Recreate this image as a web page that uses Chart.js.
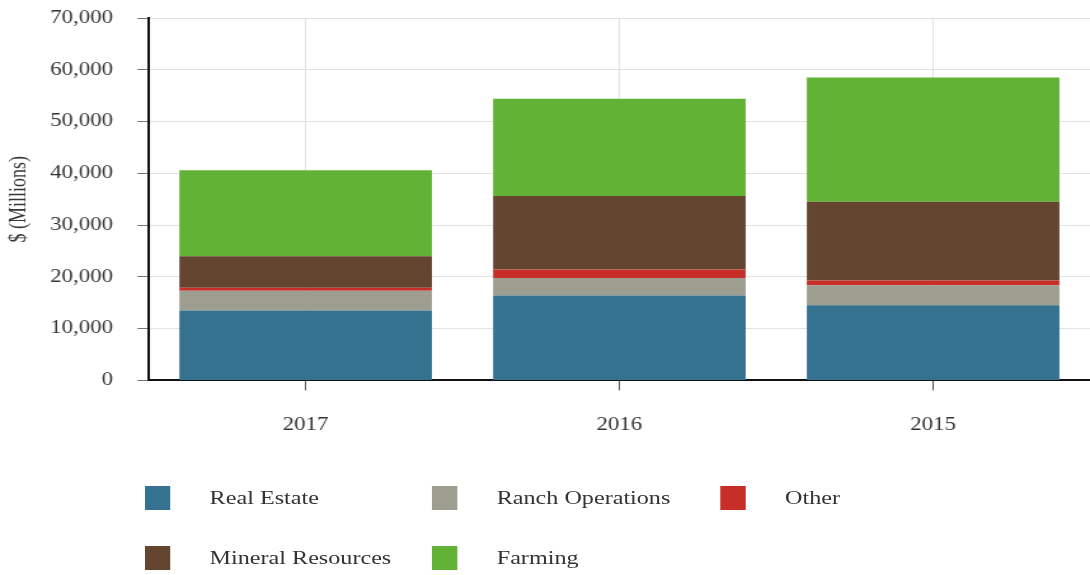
<!DOCTYPE html>
<html>
<head>
<meta charset="utf-8">
<script src="https://cdn.jsdelivr.net/npm/chart.js@4.4.0/dist/chart.umd.min.js"></script>
<style>
    html, body { margin: 0; padding: 0; background: #fff; overflow: hidden; }
    /* the reference is stretched sideways, so draw narrow and scale up */
    #wrap { position: relative; width: 858px; height: 575px; transform: scaleX(1.2704); transform-origin: 0 0; }
    #chart { position: absolute; left: 0; top: 0; }
    .legend-item { position: absolute; font-family: 'Liberation Serif', 'Times New Roman', serif; font-size: 19px; color: #333; }
    .legend-box { position: absolute; width: 20px; height: 24px; }
    .legend-text { position: absolute; white-space: nowrap; line-height: 24px; }
</style>
</head>
<body>
<div id="wrap">
    <canvas id="chart" width="858" height="575"></canvas>
    <div id="legend"></div>
</div>
<script>
const years = ['2017', '2016', '2015'];

const realEstate = [13500, 16400, 14500];
const ranchOperations = [3800, 3400, 3900];
const other = [600, 1600, 900];
const mineralResources = [6100, 14200, 15200];
const farming = [16600, 18800, 24000];

const seriesNames = ['Real Estate', 'Ranch Operations', 'Other', 'Mineral Resources', 'Farming'];
const seriesColors = ['#34728f', '#9d9d90', '#c82e28', '#634530', '#62b236'];
const yTicks = [0, 10000, 20000, 30000, 40000, 50000, 60000, 70000];

const serif = "'Liberation Serif', 'Times New Roman', serif";

(function () {
    const values = [realEstate, ranchOperations, other, mineralResources, farming];

    new Chart(document.getElementById('chart'), {
        type: 'bar',
        data: {
            labels: years,
            datasets: seriesNames.map((name, i) => ({
                label: name,
                data: values[i],
                backgroundColor: seriesColors[i],
                borderWidth: 0,
                categoryPercentage: 0.805,
                barPercentage: 1
            }))
        },
        options: {
            responsive: false,
            animation: false,
            layout: { padding: { top: 18, right: 0, bottom: 115, left: 4 } },
            plugins: {
                legend: { display: false },
                tooltip: { enabled: false }
            },
            scales: {
                x: {
                    stacked: true,
                    border: { color: '#111', width: 2 },
                    grid: { offset: false, color: '#e2e2e2', lineWidth: 1, tickLength: 10, tickColor: '#555' },
                    ticks: { color: '#333', padding: 24, font: { family: serif, size: 18 } }
                },
                y: {
                    stacked: true,
                    min: 0,
                    max: 70000,
                    afterBuildTicks: axis => { axis.ticks = yTicks.map(v => ({ value: v })); },
                    // tick padding would otherwise push the plot top down
                    afterFit: axis => { axis.paddingTop = 0; },
                    border: { color: '#111', width: 2 },
                    grid: { color: '#e2e2e2', lineWidth: 1, tickLength: 9, tickColor: '#777' },
                    ticks: {
                        color: '#333',
                        padding: 19,
                        font: { family: serif, size: 18 },
                        callback: v => v.toLocaleString('en-US')
                    },
                    title: {
                        display: true,
                        text: '$ (Millions)',
                        color: '#333',
                        padding: { top: 0, bottom: -5 },
                        font: { family: serif, size: 18 }
                    }
                }
            }
        }
    });

    // legend below the plot, 3 columns x 2 rows
    const legend = document.getElementById('legend');
    const colX = [114, 340, 567];
    const rowY = [486, 546];
    seriesNames.forEach((name, i) => {
        const item = document.createElement('div');
        item.className = 'legend-item';
        item.style.left = colX[i % 3] + 'px';
        item.style.top = rowY[Math.floor(i / 3)] + 'px';
        item.innerHTML = '<div class="legend-box" style="background:' + seriesColors[i] + '"></div>' +
            '<div class="legend-text" style="left:51px">' + name + '</div>';
        legend.appendChild(item);
    });
})();
</script>
</body>
</html>
